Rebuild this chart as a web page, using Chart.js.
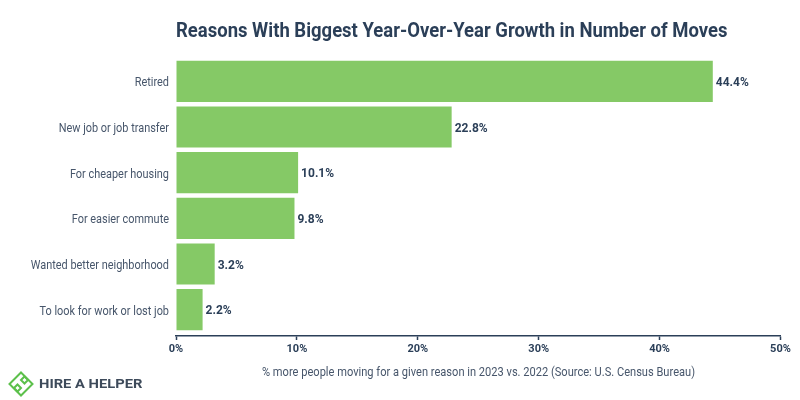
<!DOCTYPE html>
<html>
<head>
<meta charset="utf-8">
<title>Reasons With Biggest Year-Over-Year Growth in Number of Moves</title>
<script src="https://cdn.jsdelivr.net/npm/chart.js@4"></script>
<style>
  body { margin: 0; background: #fff; }
  #wrap { position: relative; width: 800px; height: 400px; }
  #logo { position: absolute; left: 8px; top: 371px; }
</style>
</head>
<body>
<div id="wrap">
  <canvas id="chart" width="800" height="400"></canvas>
  <svg id="logo" width="26" height="26" viewBox="0 0 26 26" fill="none" stroke="#5cc04b" stroke-width="2">
    <path d="M13 1.5 L24.5 13 L13 24.5 L1.5 13 Z"/>
    <path d="M16.5 5.5 L20 9 L16.5 12.5 L13 9 Z"/>
    <path d="M9.5 13.5 L13 17 L9.5 20.5 L6 17 Z"/>
  </svg>
</div>
<script>
// Chart data
const reasons = ['Retired', 'New job or job transfer', 'For cheaper housing', 'For easier commute', 'Wanted better neighborhood', 'To look for work or lost job'];
const growth = [44.4, 22.8, 10.1, 9.8, 3.2, 2.2];
const xTicks = [0, 10, 20, 30, 40, 50];

const titleText = 'Reasons With Biggest Year-Over-Year Growth in Number of Moves';
const axisText = '% more people moving for a given reason in 2023 vs. 2022 (Source: U.S. Census Bureau)';
const brandText = 'HIRE A HELPER';

const NAVY = '#2b3f58';
const GREY = '#47566b';

// Draw text squeezed horizontally, the original font is a condensed one
function drawNarrow(ctx, text, x, y, font, color, squeeze, align) {
    ctx.save();
    ctx.font = font;
    ctx.fillStyle = color;
    ctx.textAlign = align;
    ctx.textBaseline = 'alphabetic';
    ctx.translate(x, y);
    ctx.scale(squeeze, 1);
    ctx.fillText(text, 0, 0);
    ctx.restore();
}

const textPlugin = {
    id: 'textPlugin',
    // Axis line sits a few px under the last bar
    afterLayout(chart) {
        const x = chart.scales.x;
        x.top += 3.5;
        x.bottom += 3.5;
    },
    afterDraw(chart) {
        const ctx = chart.ctx;
        const yScale = chart.scales.y;
        const xScale = chart.scales.x;

        drawNarrow(ctx, titleText, 176, 37, '700 21px Roboto', NAVY, 0.88, 'left');
        drawNarrow(ctx, axisText, 478.5, 376, '400 13px Roboto', GREY, 0.853, 'center');
        drawNarrow(ctx, brandText, 39, 388, '700 13.5px Roboto', '#3d4a5a', 1.09, 'left');

        // Category labels
        reasons.forEach((label, i) => {
            drawNarrow(ctx, label, 169, yScale.getPixelForTick(i) + 5, '400 13px Roboto', GREY, 0.84, 'right');
        });

        // Value labels at the bar ends
        growth.forEach((value, i) => {
            ctx.save();
            ctx.font = '700 12px Roboto';
            ctx.fillStyle = NAVY;
            ctx.textBaseline = 'middle';
            ctx.fillText(value.toFixed(1) + '%', xScale.getPixelForValue(value) + 3, yScale.getPixelForTick(i) + 1.5);
            ctx.restore();
        });
    }
};

new Chart(document.getElementById('chart'), {
    type: 'bar',
    data: {
        labels: reasons,
        datasets: [{
            data: growth,
            backgroundColor: '#85c966',
            categoryPercentage: 0.9,
            barPercentage: 1
        }]
    },
    options: {
        indexAxis: 'y',
        responsive: false,
        animation: false,
        layout: { padding: { top: 58.5, right: 19.5 } },
        plugins: { legend: { display: false }, tooltip: { enabled: false } },
        scales: {
            x: {
                min: 0,
                max: 50,
                afterFit(scale) {
                    scale.height = 67.5;
                    scale.paddingLeft = 0;
                    scale.paddingRight = 0;
                },
                afterBuildTicks(scale) {
                    scale.ticks = xTicks.map(v => ({ value: v }));
                },
                border: { color: NAVY, width: 1.5 },
                grid: { drawOnChartArea: false, color: NAVY, tickLength: 4, tickWidth: 1.5 },
                ticks: {
                    color: NAVY,
                    padding: 3,
                    maxRotation: 0,
                    font: { family: 'Roboto', size: 11, weight: '700' },
                    callback: v => v + '%'
                }
            },
            y: {
                afterFit(scale) { scale.width = 176; },
                border: { display: false },
                grid: { display: false },
                ticks: { display: false }
            }
        }
    },
    plugins: [textPlugin]
});
</script>
</body>
</html>
